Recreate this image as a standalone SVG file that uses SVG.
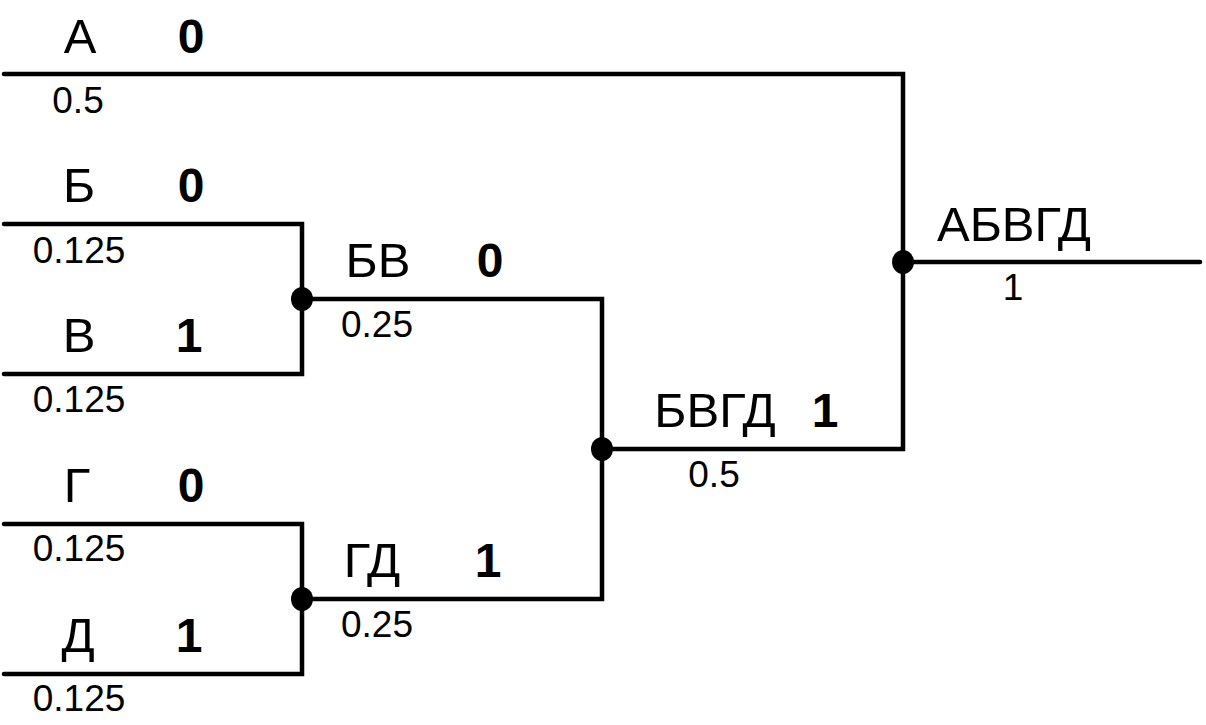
<svg xmlns="http://www.w3.org/2000/svg" width="1206" height="725" viewBox="0 0 1206 725">
<style>
  .w { fill: none; stroke: #000; stroke-width: 4.5; stroke-linecap: round; stroke-linejoin: miter; }
  .dot { fill: #000; }
  .lbl { font-family: "Liberation Sans", Arial, sans-serif; font-size: 49px; fill: #000; text-anchor: middle; }
  .bit { font-family: "Liberation Sans", Arial, sans-serif; font-size: 48px; font-weight: bold; fill: #000; text-anchor: middle; }
  .p { font-family: "Liberation Sans", Arial, sans-serif; font-size: 37px; fill: #000; text-anchor: middle; }
</style>
<rect width="1206" height="725" fill="#fff"/>
<g id="connectors">
  <path class="w" d="M4,74 H903 V449 H602"/>
  <path class="w" d="M903,262 H1200"/>
  <path class="w" d="M4,224 H302 V374 H4"/>
  <path class="w" d="M302,299 H602 V599 H302"/>
  <path class="w" d="M4,524 H302 V674 H4"/>
</g>
<g id="dots">
  <ellipse class="dot" cx="302" cy="299" rx="11" ry="12"/>
  <ellipse class="dot" cx="302" cy="599" rx="11" ry="12"/>
  <ellipse class="dot" cx="602" cy="449" rx="11" ry="12"/>
  <ellipse class="dot" cx="903" cy="262" rx="11" ry="12"/>
</g>
<g id="node-A">
  <text class="lbl" x="80" y="53">А</text>
  <text class="bit" x="191" y="53">0</text>
  <text class="p" x="78" y="113">0.5</text>
</g>
<g id="node-B">
  <text class="lbl" x="79" y="202">Б</text>
  <text class="bit" x="191" y="202">0</text>
  <text class="p" x="79" y="263">0.125</text>
</g>
<g id="node-V">
  <text class="lbl" x="79" y="352">В</text>
  <text class="bit" x="189" y="352">1</text>
  <text class="p" x="79" y="412">0.125</text>
</g>
<g id="node-G">
  <text class="lbl" x="77" y="502">Г</text>
  <text class="bit" x="191" y="502">0</text>
  <text class="p" x="79" y="561">0.125</text>
</g>
<g id="node-D">
  <text class="lbl" x="78" y="652">Д</text>
  <text class="bit" x="189" y="652">1</text>
  <text class="p" x="79" y="711">0.125</text>
</g>
<g id="node-BV">
  <text class="lbl" x="378" y="277">БВ</text>
  <text class="bit" x="490" y="277">0</text>
  <text class="p" x="377" y="337">0.25</text>
</g>
<g id="node-GD">
  <text class="lbl" x="372" y="577">ГД</text>
  <text class="bit" x="488" y="577">1</text>
  <text class="p" x="377" y="637">0.25</text>
</g>
<g id="node-BVGD">
  <text class="lbl" x="715" y="427">БВГД</text>
  <text class="bit" x="825" y="427">1</text>
  <text class="p" x="714" y="487">0.5</text>
</g>
<g id="node-ABVGD">
  <text class="lbl" x="1014" y="241">АБВГД</text>
  <text class="p" x="1013" y="300">1</text>
</g>
</svg>
